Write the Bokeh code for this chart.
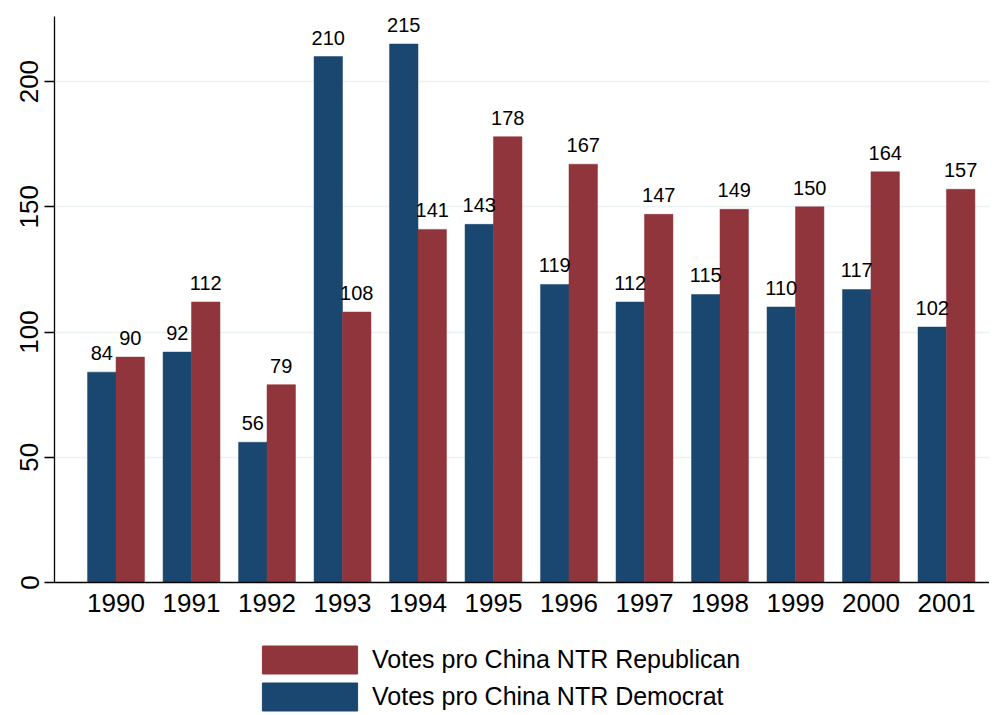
from bokeh.plotting import figure
from bokeh.layouts import column
from bokeh.models import (ColumnDataSource, Range1d, FixedTicker, Legend, LegendItem,
                          LabelSet)
from bokeh.core.properties import value
from bokeh.transform import dodge
from bokeh.embed import file_html
from bokeh.resources import INLINE

years = [1990, 1991, 1992, 1993, 1994, 1995, 1996, 1997, 1998, 1999, 2000, 2001]
dem = [84, 92, 56, 210, 215, 143, 119, 112, 115, 110, 117, 102]
rep = [90, 112, 79, 108, 141, 178, 167, 147, 149, 150, 164, 157]
y_ticks = [0, 50, 100, 150, 200]
dem_label = "Votes pro China NTR Democrat"
rep_label = "Votes pro China NTR Republican"

BLUE = "#1a476f"
RED = "#90353b"
FONT = "Liberation Sans"
W = 0.377

src = ColumnDataSource(dict(year=years, dem=dem, rep=rep,
                            dem_t=[str(v) for v in dem], rep_t=[str(v) for v in rep]))

p = figure(width=989, height=620, output_backend="svg", toolbar_location=None,
           x_range=Range1d(years[0] - 0.815, years[0] + 11.57),
           y_range=Range1d(0, 226),
           min_border_left=54, min_border_top=16, min_border_right=0, min_border_bottom=38)
p.outline_line_color = None
p.background_fill_color = "white"
p.border_fill_color = "white"

rd = p.vbar(x=dodge("year", -W / 2, range=p.x_range), top="dem", width=W, source=src,
            fill_color=BLUE, line_color=BLUE, line_width=0.5)
rr = p.vbar(x=dodge("year", W / 2, range=p.x_range), top="rep", width=W, source=src,
            fill_color=RED, line_color=RED, line_width=0.5)

for col, off in (("dem", -W / 2), ("rep", W / 2)):
    p.add_layout(LabelSet(x=dodge("year", off, range=p.x_range), y=col, text=col + "_t",
                          source=src, text_align="center", text_baseline="alphabetic",
                          y_offset=12, text_font=value(FONT), text_font_size="20px",
                          text_color="black"))

# axes
p.xaxis.ticker = FixedTicker(ticks=years)
p.xaxis.major_tick_line_color = None
p.xaxis.minor_tick_line_color = None
p.xaxis.major_label_standoff = 5
p.xaxis.major_label_text_font = FONT
p.xaxis.major_label_text_font_size = "26px"
p.xaxis.major_label_text_color = "black"
p.xaxis.axis_line_color = "black"
p.xaxis.axis_line_width = 1.3

p.yaxis.ticker = FixedTicker(ticks=y_ticks)
p.yaxis.major_label_orientation = "vertical"
p.yaxis.major_tick_out = 10
p.yaxis.major_tick_in = 0
p.yaxis.major_tick_line_width = 1.3
p.yaxis.major_tick_line_color = "black"
p.yaxis.minor_tick_line_color = None
p.yaxis.major_label_standoff = 6
p.yaxis.major_label_text_font = FONT
p.yaxis.major_label_text_font_size = "26px"
p.yaxis.major_label_text_color = "black"
p.yaxis.axis_line_color = "black"
p.yaxis.axis_line_width = 1.3

p.xgrid.grid_line_color = None
p.ygrid.grid_line_color = "#eaf2f3"
p.ygrid.grid_line_width = 1.5

# legend strip below the chart (its bars lie outside its visible range)
p2 = figure(width=989, height=95, output_backend="svg", toolbar_location=None,
            x_axis_location=None, y_axis_location=None,
            x_range=Range1d(0, 1), y_range=Range1d(-2, -1),
            min_border_left=0, min_border_top=0, min_border_right=0, min_border_bottom=0)
p2.outline_line_color = None
p2.xgrid.grid_line_color = None
p2.ygrid.grid_line_color = None
lr = p2.vbar(x="year", top="rep", width=W, source=src, fill_color=RED, line_color=RED)
ld = p2.vbar(x="year", top="dem", width=W, source=src, fill_color=BLUE, line_color=BLUE)

legend = Legend(items=[LegendItem(label=rep_label, renderers=[lr]),
                       LegendItem(label=dem_label, renderers=[ld])],
                orientation="vertical", location=(196, 1.5),
                glyph_width=119, glyph_height=35, label_standoff=3,
                label_text_font=FONT, label_text_font_size="25px",
                label_text_color="black",
                label_height=28, spacing=2, padding=0, margin=0,
                border_line_color=None, background_fill_alpha=0)
p2.add_layout(legend, "center")

layout = column(p, p2, spacing=0)
open("out.html", "w").write(file_html(layout, INLINE))
